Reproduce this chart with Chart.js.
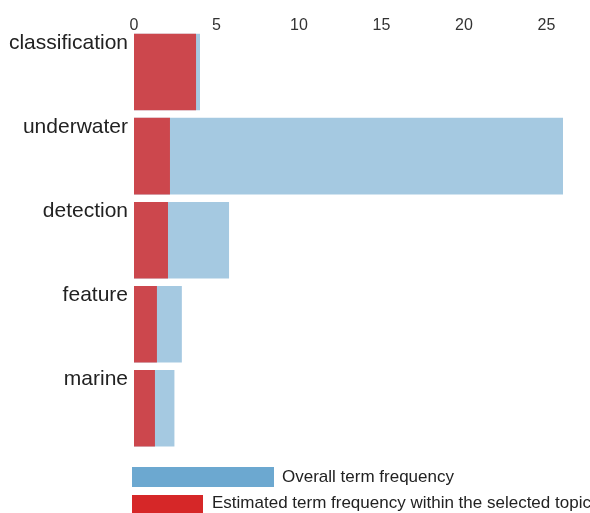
<html>
<head>
<meta charset="utf-8">
<script src="https://cdn.jsdelivr.net/npm/chart.js@4/dist/chart.umd.min.js"></script>
<style>
  body { margin: 0; background: #fff; }
  #wrap { position: absolute; left: 0; top: 0; width: 590px; height: 469px; }
  .key { position: absolute; }
  .lbl { position: absolute; font: 17px "Liberation Sans", Arial, sans-serif; color: #222; white-space: nowrap; }
</style>
</head>
<body>
<div id="wrap"><canvas id="bars"></canvas></div>
<div class="key" style="left:132px; top:467px; width:142px; height:20px; background:#6ca8d0;"></div>
<span class="lbl" style="left:282px; top:467px;">Overall term frequency</span>
<div class="key" style="left:132px; top:495px; width:71px; height:20px; background:#d62728;"></div>
<span class="lbl" style="left:212px; top:493px;">Estimated term frequency within the selected topic</span>
<script>
var terms = ['classification', 'underwater', 'detection', 'feature', 'marine'];
var overall = [4.0, 26.0, 5.76, 2.9, 2.45];
var inTopic = [3.76, 2.18, 2.06, 1.39, 1.27];
var xTicks = [0, 5, 10, 15, 20, 25];

var chart = new Chart(document.getElementById('bars'), {
  type: 'bar',
  data: {
    labels: terms,
    datasets: [
      {
        label: 'Estimated term frequency within the selected topic',
        data: inTopic,
        backgroundColor: 'rgba(214,39,40,0.8)',
        grouped: false,
        barPercentage: 0.91,
        categoryPercentage: 1
      },
      {
        label: 'Overall term frequency',
        data: overall,
        backgroundColor: 'rgba(31,119,180,0.4)',
        grouped: false,
        barPercentage: 0.91,
        categoryPercentage: 1
      }
    ]
  },
  options: {
    indexAxis: 'y',
    responsive: true,
    maintainAspectRatio: false,
    animation: false,
    layout: { padding: { left: 0, right: 27, top: 0, bottom: 6 } },
    plugins: { legend: { display: false }, tooltip: { enabled: false } },
    scales: {
      x: {
        position: 'top',
        min: 0,
        max: 26,
        afterBuildTicks: function(ax) { ax.ticks = xTicks.map(function(v) { return { value: v }; }); },
        afterFit: function(ax) { ax.height = 30; },
        grid: { display: false, drawTicks: false },
        border: { display: false },
        ticks: { padding: -5, color: '#333', font: { family: '"Liberation Sans", Arial, sans-serif', size: 16 } }
      },
      y: {
        afterFit: function(ax) { ax.width = 134; },
        grid: { display: false, drawTicks: false },
        border: { display: false },
        ticks: { padding: 6, labelOffset: -29, color: '#222', font: { family: '"Liberation Sans", Arial, sans-serif', size: 21 } }
      }
    }
  }
});
</script>
</body>
</html>
